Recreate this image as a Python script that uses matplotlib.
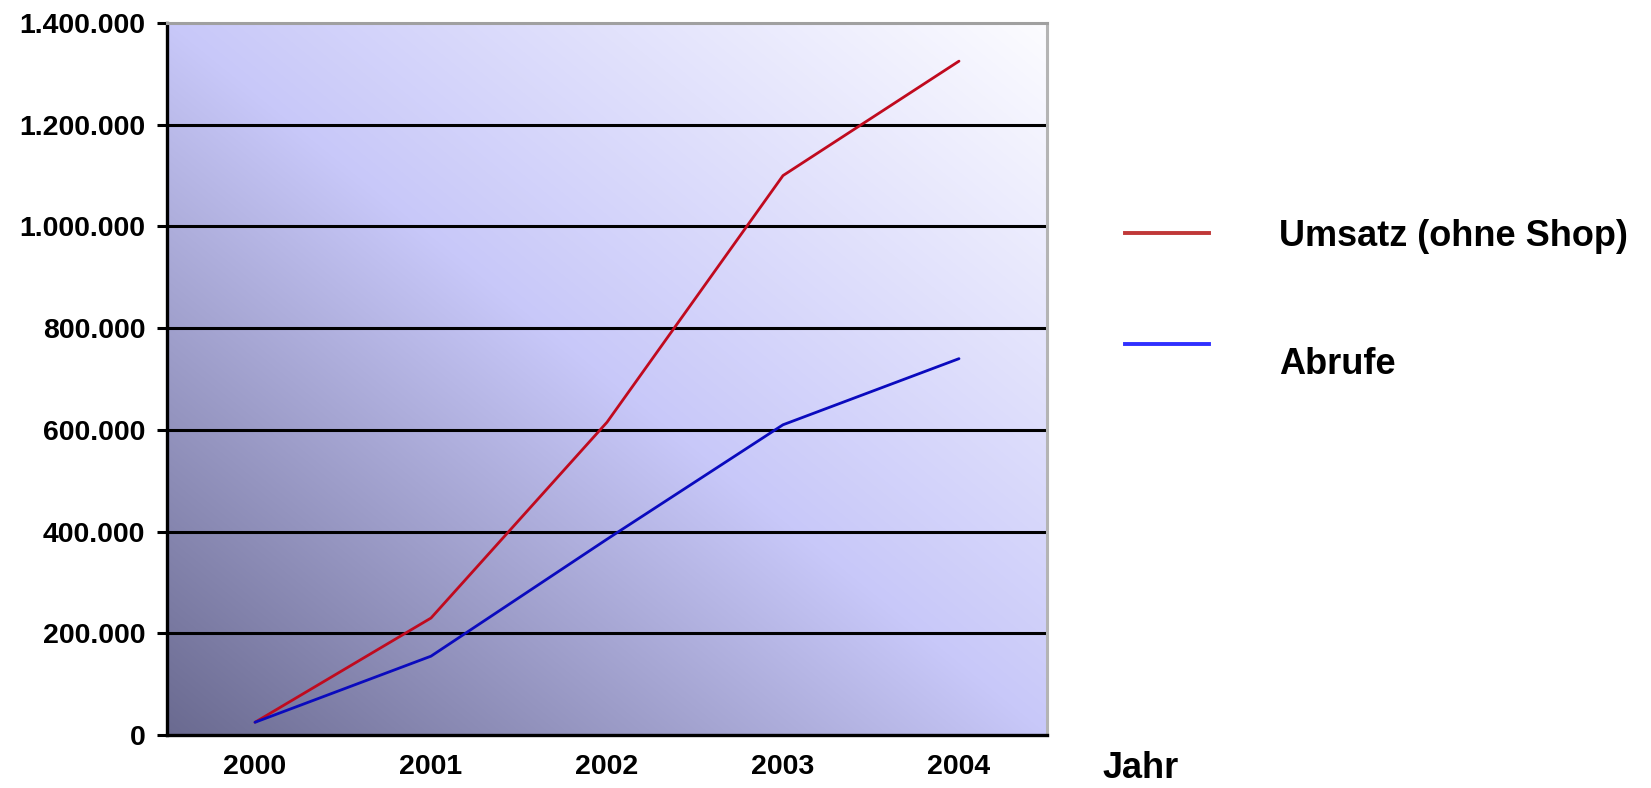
import numpy as np
import matplotlib
matplotlib.use("Agg")
import matplotlib.pyplot as plt
from matplotlib.lines import Line2D
from matplotlib.ticker import FuncFormatter

years = ["2000", "2001", "2002", "2003", "2004"]
umsatz = [25000, 230000, 615000, 1100000, 1325000]
abrufe = [25000, 155000, 385000, 610000, 740000]
series_names = ["Umsatz (ohne Shop)", "Abrufe"]
yticks = [0, 200000, 400000, 600000, 800000, 1000000, 1200000, 1400000]
xlabel = "Jahr"

plt.rcParams['font.family'] = ['Liberation Sans', 'DejaVu Sans']

W, H = 1651, 788
fig = plt.figure(figsize=(W / 100, H / 100), dpi=100)
fig.patch.set_facecolor('white')

def fx(px):
    return px / W

def fy(py):
    return 1 - py / H

ax = fig.add_axes([fx(167), fy(735), fx(1047) - fx(167), fy(23) - fy(735)])

# diagonal gradient background
n = 400
u = np.linspace(0, 1, n)
v = np.linspace(0, 1, n)
U, V = np.meshgrid(u, v)
t = (U + V) / 2
c0 = np.array([106, 106, 144]) / 255
c1 = np.array([200, 200, 249]) / 255
c2 = np.array([252, 252, 255]) / 255
img = np.zeros((n, n, 3))
for k in range(3):
    img[..., k] = np.where(t < 0.5,
                           c0[k] + (c1[k] - c0[k]) * (t / 0.5),
                           c1[k] + (c2[k] - c1[k]) * ((t - 0.5) / 0.5))
ax.imshow(img, extent=(0, 1, 0, 1), transform=ax.transAxes, origin='lower',
          aspect='auto', zorder=0, interpolation='bilinear')

x = np.arange(len(years))
ax.plot(x, umsatz, color='#C00A1E', lw=2.0, zorder=3, solid_capstyle='round')
ax.plot(x, abrufe, color='#0A0ABE', lw=2.0, zorder=3, solid_capstyle='round')

ax.set_xlim(-0.5, len(years) - 0.5)
ax.set_ylim(0, 1400000)
ax.set_xticks(x)
ax.set_xticklabels(years)
ax.set_yticks(yticks)
ax.yaxis.set_major_formatter(FuncFormatter(lambda val, pos: f"{int(val):,}".replace(",", ".")))

for yv in yticks[1:-1]:
    ax.axhline(yv, color='black', lw=2.2, zorder=2)

ax.tick_params(axis='y', length=7, width=2.2, pad=8.5, labelsize=20.5, direction='out')
ax.tick_params(axis='x', length=0, pad=14, labelsize=20.5)
for lab in ax.get_xticklabels() + ax.get_yticklabels():
    lab.set_fontweight('bold')

ax.spines['left'].set_color('black')
ax.spines['left'].set_linewidth(2.4)
ax.spines['bottom'].set_color('black')
ax.spines['bottom'].set_linewidth(2.4)
ax.spines['top'].set_color('#A0A0A0')
ax.spines['top'].set_linewidth(2.2)
ax.spines['right'].set_color('#B4B4B4')
ax.spines['right'].set_linewidth(2.2)

# legend drawn manually
leg_colors = ['#C03838', '#3030FF']
leg_y = [233, 344]
text_base = [246, 374]
for name, col, ly, tb in zip(series_names, leg_colors, leg_y, text_base):
    fig.add_artist(Line2D([fx(1125), fx(1209)], [fy(ly), fy(ly)], color=col, lw=2.8))
    fig.text(fx(1279), fy(tb), name, fontsize=26, fontweight='bold',
             ha='left', va='baseline', color='black')

fig.text(fx(1102), fy(778), xlabel, fontsize=26, fontweight='bold',
         ha='left', va='baseline', color='black')

fig.savefig('out.png', dpi=100)
